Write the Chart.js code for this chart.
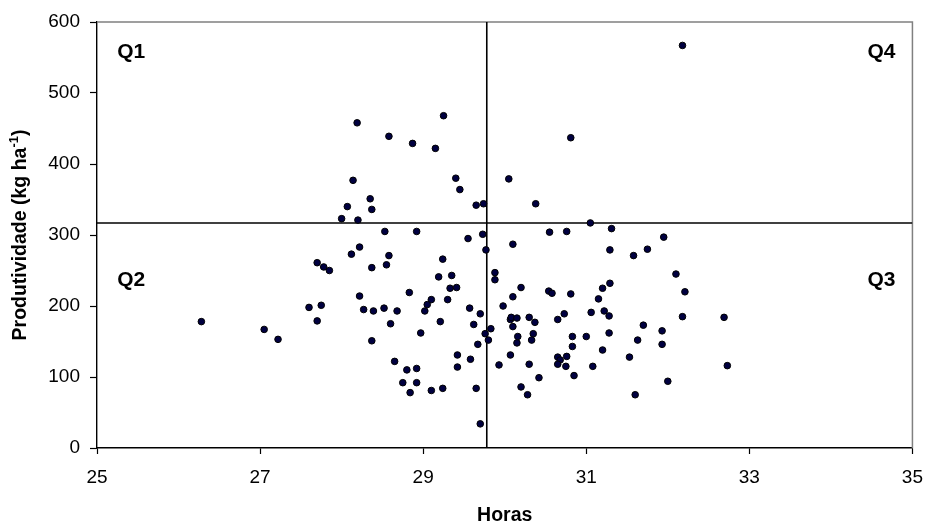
<!DOCTYPE html>
<html>
<head>
<meta charset="utf-8">
<script src="https://cdn.jsdelivr.net/npm/chart.js@4/dist/chart.umd.min.js"></script>
<style>
  html, body { margin: 0; padding: 0; background: #ffffff; }
  #wrap { width: 935px; height: 525px; position: relative; }
</style>
</head>
<body>
<div id="wrap"><canvas id="c" width="935" height="525"></canvas></div>
<script>
// ---- data ----
const horas = [
  28.19, 29.25, 28.58, 28.87, 29.15, 28.14, 29.40, 29.45, 28.35, 28.07,
  28.37, 29.65, 29.74, 28.00, 28.20, 28.53, 28.92, 29.55, 29.73, 28.22,
  28.12, 28.58, 29.24, 29.77, 27.70, 27.78, 27.85, 28.37, 28.55, 29.19,
  29.35, 29.33, 29.41, 28.83, 28.22, 29.10, 29.30, 29.05, 29.02, 27.60,
  27.75, 28.27, 28.39, 28.52, 28.68, 29.57, 29.70, 26.28, 27.70, 28.60,
  29.21, 29.62, 29.76, 27.05, 27.22, 28.97, 28.37, 29.67, 29.42, 29.58,
  29.42, 28.65, 28.80, 28.92, 28.75, 28.92, 28.84, 29.10, 29.24, 29.65,
  29.70, 30.05, 30.81, 30.38, 31.05, 31.31, 30.55, 30.76, 30.10, 31.29,
  31.58, 31.75, 31.95, 32.10, 29.88, 29.88, 32.18, 30.20, 30.10, 30.54,
  30.58, 30.81, 31.20, 31.29, 31.15, 32.21, 29.98, 30.07, 30.08, 30.15,
  30.30, 30.37, 30.10, 30.65, 30.73, 31.06, 31.22, 31.28, 32.18, 32.69,
  29.83, 29.80, 30.16, 30.15, 30.35, 30.33, 30.83, 31.00, 31.28, 31.70,
  31.93, 31.63, 31.93, 30.83, 31.20, 30.07, 30.65, 30.68, 30.76, 30.65,
  30.75, 29.93, 30.30, 31.08, 31.53, 32.73, 30.42, 30.85, 30.20, 30.28,
  32.00, 31.60
];
const produtividade = [
  458, 468, 439, 429, 422, 377, 380, 364, 351, 340,
  336, 342, 344, 323, 321, 305, 305, 295, 301, 283,
  273, 271, 266, 279, 261, 255, 250, 254, 258, 241,
  243, 225, 226, 219, 214, 209, 209, 202, 193, 198,
  201, 195, 193, 197, 193, 197, 189, 178, 179, 175,
  178, 174, 161, 167, 153, 162, 151, 146, 131, 125,
  114, 122, 110, 112, 92, 92, 78, 81, 84, 84,
  34, 379, 437, 344, 317, 309, 304, 305, 287, 279,
  271, 280, 297, 245, 247, 237, 567, 226, 213, 221,
  218, 217, 225, 232, 210, 220, 200, 181, 184, 183,
  184, 177, 171, 181, 189, 191, 193, 186, 185, 184,
  168, 152, 157, 148, 161, 152, 157, 157, 162, 173,
  165, 152, 146, 143, 138, 131, 128, 124, 129, 118,
  115, 117, 118, 115, 128, 116, 99, 102, 86, 75,
  94, 75
];
const mediaHoras = 29.78;          // vertical divider
const mediaProdutividade = 317;    // horizontal divider
const xRange = [25, 35];
const yRange = [0, 600];
const xStep = 2;
const yStep = 100;
const quadrantNames = ['Q1', 'Q2', 'Q3', 'Q4'];
const xTitle = 'Horas';
const yTitleParts = ['Produtividade (kg ha', '-1', ')'];

// ---- build chart ----
const FONT = '"Liberation Sans", Arial, Helvetica, sans-serif';
const points = horas.map((h, i) => ({ x: h, y: produtividade[i] }));

const decor = {
  id: 'decor',
  beforeDatasetsDraw(chart) {
    const { ctx, chartArea: a } = chart;
    ctx.save();
    ctx.strokeStyle = '#808080';
    ctx.lineWidth = 1.5;
    ctx.beginPath();
    ctx.moveTo(a.left, a.top);
    ctx.lineTo(a.right, a.top);
    ctx.lineTo(a.right, a.bottom);
    ctx.stroke();
    ctx.restore();
  },
  afterDraw(chart, args, opts) {
    const { ctx, chartArea: a } = chart;
    const xs = chart.scales.x, ys = chart.scales.y;
    ctx.save();
    ctx.fillStyle = '#000';
    ctx.font = 'bold 21px ' + FONT;
    ctx.textAlign = 'center';
    ctx.textBaseline = 'middle';
    opts.labels.forEach((lab, i) => {
      ctx.fillText(quadrantNames[i], xs.getPixelForValue(lab[0]), ys.getPixelForValue(lab[1]));
    });
    // y axis title with superscript
    ctx.translate(opts.yTitleX, (a.top + a.bottom) / 2);
    ctx.rotate(-Math.PI / 2);
    const mainFont = 'bold 19.5px ' + FONT;
    const supFont = 'bold 13px ' + FONT;
    ctx.font = mainFont;
    const w1 = ctx.measureText(yTitleParts[0]).width;
    const w3 = ctx.measureText(yTitleParts[2]).width;
    ctx.font = supFont;
    const w2 = ctx.measureText(yTitleParts[1]).width;
    let x0 = -(w1 + w2 + w3) / 2;
    ctx.textAlign = 'left';
    ctx.textBaseline = 'alphabetic';
    ctx.font = mainFont;
    ctx.fillText(yTitleParts[0], x0, 7);
    ctx.font = supFont;
    ctx.fillText(yTitleParts[1], x0 + w1, -1);
    ctx.font = mainFont;
    ctx.fillText(yTitleParts[2], x0 + w1 + w2, 7);
    ctx.restore();
  }
};

new Chart(document.getElementById('c'), {
  type: 'scatter',
  data: {
    datasets: [
      {
        label: 'pontos',
        data: points,
        pointRadius: 3.3,
        pointBorderWidth: 1,
        pointBackgroundColor: '#000040',
        pointBorderColor: '#000000',
        showLine: false,
        order: 0
      },
      {
        label: 'v',
        type: 'line',
        data: [{ x: mediaHoras, y: yRange[0] }, { x: mediaHoras, y: yRange[1] }],
        borderColor: '#000',
        borderWidth: 1.6,
        pointRadius: 0,
        fill: false,
        order: 1
      },
      {
        label: 'h',
        type: 'line',
        data: [{ x: xRange[0], y: mediaProdutividade }, { x: xRange[1], y: mediaProdutividade }],
        borderColor: '#000',
        borderWidth: 1.6,
        pointRadius: 0,
        fill: false,
        order: 1
      }
    ]
  },
  options: {
    responsive: false,
    animation: false,
    events: [],
    layout: { padding: { top: 22, right: 12, left: 0, bottom: 0 } },
    plugins: {
      legend: { display: false },
      tooltip: { enabled: false },
      decor: {
        labels: [[25.42, 557], [25.42, 237], [34.62, 237], [34.62, 557]],
        yTitleX: 19
      }
    },
    scales: {
      x: {
        type: 'linear',
        min: xRange[0], max: xRange[1],
        afterFit(s) { s.height = 77; },
        ticks: { stepSize: xStep, color: '#000', font: { family: FONT, size: 19 }, padding: 12, maxRotation: 0 },
        grid: { display: true, drawOnChartArea: false, drawTicks: true, tickLength: 6, tickColor: '#000', tickWidth: 1.2 },
        border: { display: true, color: '#000', width: 1.4 },
        title: { display: true, text: xTitle, color: '#000', font: { family: FONT, size: 19.5, weight: 'bold', lineHeight: 1 }, padding: { top: 0, bottom: 0 } }
      },
      y: {
        type: 'linear',
        min: yRange[0], max: yRange[1],
        afterFit(s) { s.width = 97; },
        ticks: { stepSize: yStep, color: '#000', font: { family: FONT, size: 19 }, padding: 10 },
        grid: { display: true, drawOnChartArea: false, drawTicks: true, tickLength: 7, tickColor: '#000', tickWidth: 1.2 },
        border: { display: true, color: '#000', width: 1.4 }
      }
    }
  },
  plugins: [decor]
});
</script>
</body>
</html>
